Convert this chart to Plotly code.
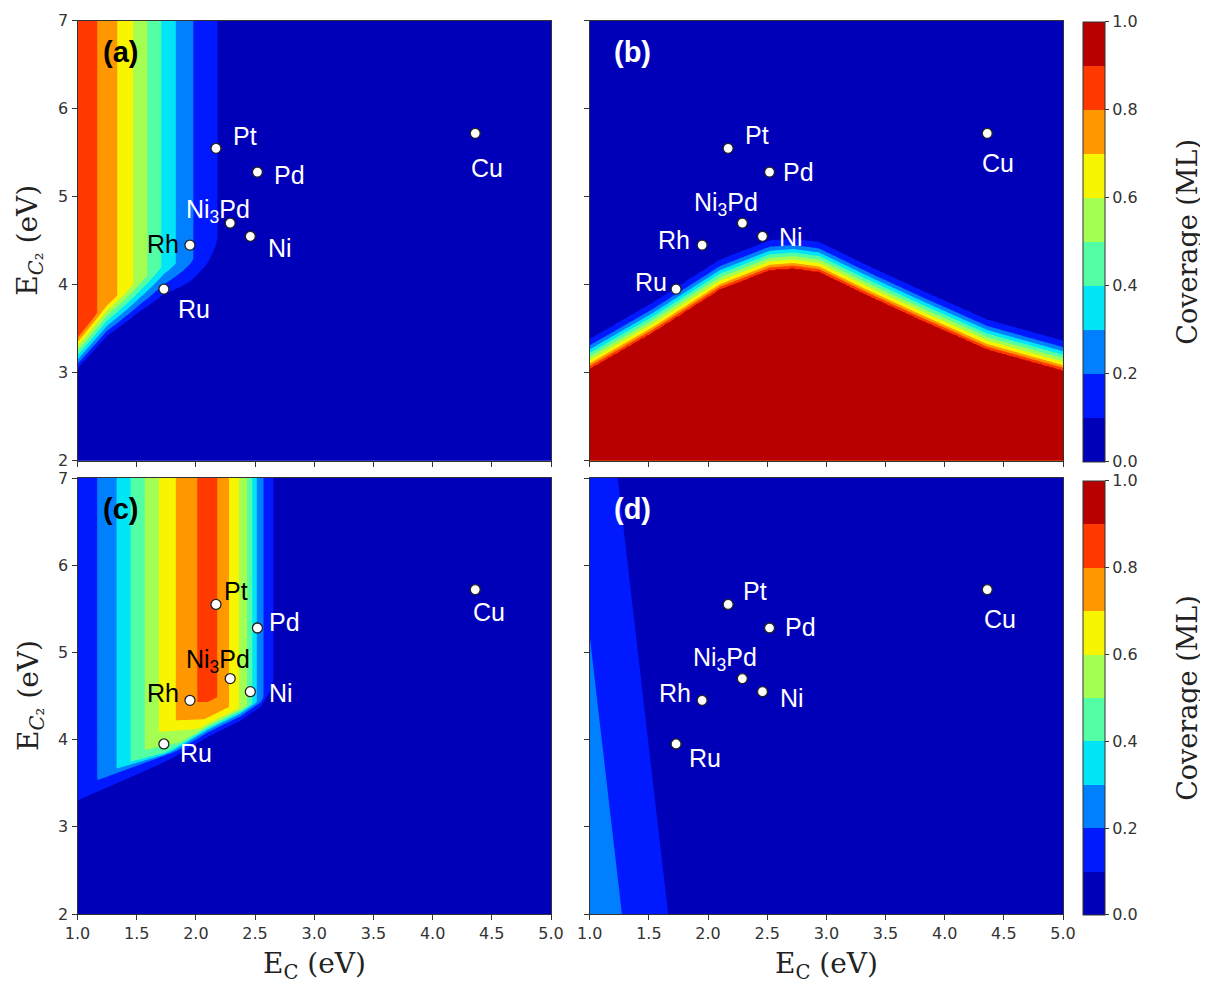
import numpy as np
import plotly.graph_objects as go

# ------------------------------------------------------------------ data
SITES = ["Pt", "Pd", "Cu", "Ni<sub>3</sub>Pd", "Ni", "Rh", "Ru"]
E_C = [2.17, 2.52, 4.36, 2.29, 2.46, 1.95, 1.73]
E_C2 = [5.55, 5.28, 5.72, 4.70, 4.55, 4.45, 3.95]

LEVEL_START, LEVEL_END, LEVEL_STEP = 0.0, 1.0, 0.1
BAND_COLORS = ["#0000b9", "#0019ff", "#0080ff", "#00e6f7", "#52ffa4",
               "#a4ff52", "#f7f500", "#ff9700", "#ff3900", "#b90000"]
CBAR_TICKS = [0.0, 0.2, 0.4, 0.6, 0.8, 1.0]
X_TICKS = [1.0, 1.5, 2.0, 2.5, 3.0, 3.5, 4.0, 4.5, 5.0]
Y_TICKS = [2, 3, 4, 5, 6, 7]

# panel (a): coverage profile across E_C (read at top of panel) and lower edge
A_PROFILE_X = [1.0, 1.167, 1.336, 1.471, 1.590, 1.708, 1.830, 1.978, 2.181, 2.5, 5.0]
A_PROFILE_Z = [0.88, 0.8, 0.7, 0.6, 0.5, 0.4, 0.3, 0.2, 0.1, 0.02, 0.02]
A_BASE_X = [1.0, 1.25, 1.53, 1.73, 1.96, 2.10, 2.17, 2.30, 5.0]
A_BASE_Y = [3.0, 3.36, 3.62, 3.78, 3.84, 3.94, 4.04, 4.50, 7.5]
A_RAMP = 0.435

# panel (b): top of the saturated region and offsets of levels 0.9 ... 0.1 above it
B_TOP_X = [1.0, 1.53, 2.10, 2.52, 2.72, 2.94, 3.37, 3.79, 4.36, 5.0]
B_TOP_Y = [3.05, 3.46, 3.95, 4.17, 4.19, 4.15, 3.87, 3.61, 3.27, 3.03]
B_LEVELS = [0.9, 0.8, 0.7, 0.6, 0.5, 0.4, 0.3, 0.2, 0.1]
B_OFFSETS = [0.0, 0.025, 0.055, 0.095, 0.135, 0.175, 0.215, 0.26, 0.33]

# panel (c): profile across E_C and lower edges of each level
C_PROFILE_X = [1.0, 1.167, 1.331, 1.449, 1.568, 1.688, 1.830, 2.012, 2.10,
               2.181, 2.280, 2.364, 2.434, 2.477, 2.514, 2.570, 2.654, 2.75, 5.0]
C_PROFILE_Z = [0.13, 0.2, 0.3, 0.4, 0.5, 0.6, 0.7, 0.8, 0.86,
               0.8, 0.7, 0.6, 0.5, 0.4, 0.3, 0.2, 0.1, 0.02, 0.02]
C_BASE_X = [1.0, 1.196, 1.534, 1.815, 2.097, 2.379, 2.548, 2.632, 2.67, 5.0]
C_BASE_Y = [3.30, 3.42, 3.61, 3.80, 4.03, 4.22, 4.38, 4.57, 4.75, 6.5]
C_LEVELS = [0.1, 0.2, 0.3, 0.4, 0.5, 0.6, 0.7, 0.8]
C_STRIP = [0.0, 0.05, 0.08, 0.10, 0.12, 0.15, 0.22, 0.40]
C_CORNER_X = [1.0, 1.196, 1.336, 1.463, 1.576, 1.703, 1.830, 2.012]
C_CORNER_Y = [3.30, 3.55, 3.67, 3.75, 3.88, 4.09, 4.22, 4.43]
C_CORNER_SLOPE = [0.6, 0.5, 0.4, 0.35, 0.3, 0.1, 0.05, 0.0]

# panel (d): straight iso-lines of levels 0.1 and 0.2
D_LEVELS = [0.1, 0.2]
D_LINE_X_AT_Y2 = [1.663, 1.272]
D_LINE_X_AT_Y7 = [1.237, 0.846]

# label offsets (pixels) per panel: (dx, dy) for SITES order, and colour
LABEL_OFFSETS = {
    "a": [(29, -12), (32, 3), (12, 35), (-12, -12), (30, 12), (-27, -1), (30, 20)],
    "b": [(29, -13), (29, 0), (11, 30), (-16, -19), (29, 1), (-28, -5), (-25, -7)],
    "c": [(20, -13), (27, -6), (14, 22), (-12, -18), (31, 1), (-27, -7), (32, 9)],
    "d": [(27, -13), (31, -1), (13, 29), (-17, -20), (30, 6), (-27, -7), (29, 14)],
}
LABEL_COLORS = {
    "a": ["white", "white", "white", "white", "white", "black", "white"],
    "b": ["white"] * 7,
    "c": ["black", "white", "white", "black", "white", "black", "white"],
    "d": ["white"] * 7,
}

# ------------------------------------------------------------------ fields
xs = np.linspace(1.0, 5.0, 321)
ys = np.linspace(2.0, 7.0, 401)
X, Y = np.meshgrid(xs, ys)

# (a)
P = np.interp(X, A_PROFILE_X, A_PROFILE_Z)
L = np.interp(X, A_BASE_X, A_BASE_Y)
Za = P * np.clip((Y - L) / A_RAMP, 0, 1)
Za = np.clip(Za, 0.02, 0.97)

# (b)
T = np.interp(X, B_TOP_X, B_TOP_Y)
dd = Y - T
bd = [-1.0] + B_OFFSETS + [1.0]
bz = [0.97] + B_LEVELS + [0.03]
Zb = np.interp(dd, bd, bz)

# (c)
Pc = np.interp(X, C_PROFILE_X, C_PROFILE_Z)
base = np.interp(X, C_BASE_X, C_BASE_Y)
B = np.array([np.maximum(base + C_STRIP[k],
                         C_CORNER_Y[k] + C_CORNER_SLOPE[k] * (X - C_CORNER_X[k]))
              for k in range(len(C_LEVELS))])
B = np.maximum.accumulate(B, axis=0)
for k in range(1, len(C_LEVELS)):
    B[k] = np.maximum(B[k], B[k - 1] + 1e-3)
Q = 0.1 - (B[0] - Y) * 1.0
for j in range(len(C_LEVELS) - 1):
    lo, hi = B[j], B[j + 1]
    m = (Y >= lo) & (Y < hi)
    Q = np.where(m, C_LEVELS[j] + (Y - lo) / (hi - lo) * 0.1, Q)
Q = np.where(Y >= B[-1], C_LEVELS[-1] + (Y - B[-1]) * 0.5, Q)
Zc = np.clip(np.minimum(Pc, Q), 0.02, 0.97)

# (d)
kk = (D_LINE_X_AT_Y7[0] - D_LINE_X_AT_Y2[0]) / 5.0
U = X - kk * (Y - 2.0)
Zd = D_LEVELS[0] + (D_LINE_X_AT_Y2[0] - U) / (D_LINE_X_AT_Y2[0] - D_LINE_X_AT_Y2[1]) * \
    (D_LEVELS[1] - D_LEVELS[0])
Zd = np.clip(Zd, 0.02, 0.97)

# ------------------------------------------------------------------ colours
n = len(BAND_COLORS)
cscale = []
for i, c in enumerate(BAND_COLORS):
    lo = 0.0 if i == 0 else (i + 0.5) / (n + 1)
    hi = 1.0 if i == n - 1 else (i + 1.5) / (n + 1)
    cscale += [[lo, c], [hi, c]]

# ------------------------------------------------------------------ layout helpers
OFF = 8            # page body margin
W, H = 1208 - OFF, 987 - OFF


def xp(px):
    return (px - OFF) / W


def yp(py):
    return 1 - (py - OFF) / H


LEFT = [xp(77.5), xp(551)]
RIGHT = [xp(589.7), xp(1063)]
TOP = [yp(460.7), yp(20.7)]
BOT = [yp(914), yp(478)]

fig = go.Figure()

panels = [("a", Za, "x", "y", False), ("b", Zb, "x2", "y2", True),
          ("c", Zc, "x3", "y3", False), ("d", Zd, "x4", "y4", True)]
cb_pos = {"b": ((yp(21.7) + yp(461.7)) / 2, 440 / H),
          "d": ((yp(480.7) + yp(915)) / 2, 434.3 / H)}

for name, Z, xa, ya, show in panels:
    cb = None
    if show:
        cb = dict(x=xp(1083), xanchor="left", xpad=0, y=cb_pos[name][0], yanchor="middle",
                  len=cb_pos[name][1], lenmode="fraction", ypad=0,
                  thickness=22, thicknessmode="pixels",
                  outlinewidth=1, outlinecolor="#333",
                  tickvals=CBAR_TICKS, ticktext=[f"{v:.1f}" for v in CBAR_TICKS],
                  ticks="outside", ticklen=4, tickcolor="#333",
                  tickfont=dict(family="DejaVu Sans", size=16, color="#333"))
    fig.add_trace(go.Contour(
        x=xs, y=ys, z=Z.astype(np.float32), xaxis=xa, yaxis=ya,
        zmin=LEVEL_START, zmax=LEVEL_END, autocontour=False,
        contours=dict(start=LEVEL_START, end=LEVEL_END, size=LEVEL_STEP,
                      coloring="fill", showlines=False),
        line=dict(width=0), colorscale=cscale, showscale=show,
        colorbar=cb, hoverinfo="skip"))
    fig.add_trace(go.Scatter(
        x=E_C, y=E_C2, xaxis=xa, yaxis=ya, mode="markers",
        marker=dict(size=10, color="white", line=dict(width=1.3, color="#222")),
        showlegend=False, hoverinfo="skip"))
    for i, s in enumerate(SITES):
        dx, dy = LABEL_OFFSETS[name][i]
        fig.add_annotation(x=E_C[i], y=E_C2[i], xref=xa, yref=ya, text=s,
                           showarrow=False, xshift=dx, yshift=-dy,
                           xanchor="center", yanchor="middle",
                           font=dict(family="Liberation Sans", size=25,
                                     color=LABEL_COLORS[name][i]))
    fig.add_annotation(x=(120 - 77.5) / 473.5, y=1 - (52 - 20.7) / 440,
                       xref=f"{xa} domain", yref=f"{ya} domain",
                       text=f"<b>({name})</b>", showarrow=False,
                       xanchor="center", yanchor="middle",
                       font=dict(family="Liberation Sans", size=29,
                                 color="black" if name in "ac" else "white"))

axis_common = dict(showgrid=False, zeroline=False, ticks="outside", ticklen=5,
                   tickcolor="#333", showline=True, linecolor="#333", linewidth=1,
                   mirror=True,
                   tickfont=dict(family="DejaVu Sans", size=16, color="#333"))

layout = dict(width=W, height=H, margin=dict(l=0, r=0, t=0, b=0, pad=0, autoexpand=False),
              paper_bgcolor="white", plot_bgcolor="white", showlegend=False)
doms = {"": (LEFT, TOP), "2": (RIGHT, TOP), "3": (LEFT, BOT), "4": (RIGHT, BOT)}
for suf, (dx_, dy_) in doms.items():
    layout["xaxis" + suf] = dict(axis_common, domain=dx_, range=[1.0, 5.0],
                                 tickvals=X_TICKS, ticktext=[f"{v:.1f}" for v in X_TICKS],
                                 showticklabels=suf in ("3", "4"),
                                 anchor="y" + suf)
    layout["yaxis" + suf] = dict(axis_common, domain=dy_, range=[2, 7],
                                 tickvals=Y_TICKS, ticktext=[str(v) for v in Y_TICKS],
                                 showticklabels=suf in ("", "3"),
                                 anchor="x" + suf)
fig.update_layout(**layout)

title_font = dict(family="DejaVu Serif", size=28, color="#222")
for xc in [(LEFT[0] + LEFT[1]) / 2, (RIGHT[0] + RIGHT[1]) / 2]:
    fig.add_annotation(x=xc, y=yp(965), xref="paper", yref="paper",
                       xanchor="center", yanchor="middle",
                       text="E<sub>C</sub> (eV)", showarrow=False, font=title_font)
for yc in [(TOP[0] + TOP[1]) / 2, (BOT[0] + BOT[1]) / 2]:
    fig.add_annotation(x=xp(30), y=yc, xref="paper", yref="paper", textangle=-90,
                       xanchor="center", yanchor="middle",
                       text="E<sub><i>C</i>₂</sub> (eV)", showarrow=False, font=title_font)
for yc in [cb_pos["b"][0], cb_pos["d"][0]]:
    fig.add_annotation(x=xp(1188), y=yc, xref="paper", yref="paper", textangle=-90,
                       xanchor="center", yanchor="middle",
                       text="Coverage (ML)", showarrow=False,
                       font=dict(family="DejaVu Serif", size=27, color="#222"))

fig.write_html("out.html")
